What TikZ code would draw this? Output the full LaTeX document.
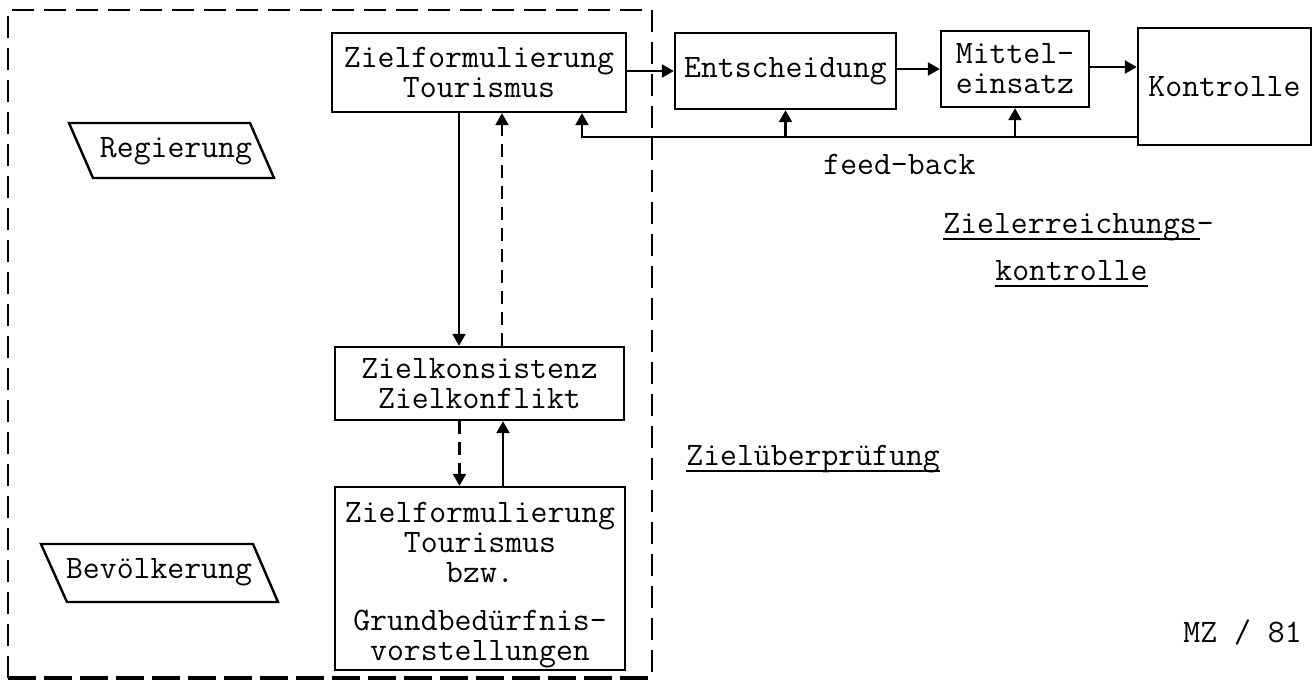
\documentclass[tikz,border=0pt]{standalone}
\usepackage{fontspec}
\usetikzlibrary{arrows.meta,calc}
\begin{document}
\begin{tikzpicture}[x=0.5pt,y=-0.5pt,
  font=\fontsize{16.4}{15}\selectfont\ttfamily,
  box/.style={draw, line width=1.2pt, inner sep=0pt, align=center},
  lbl/.style={inner sep=0pt, anchor=base west},
  arr/.style={-{Triangle[length=6pt,width=6.5pt]}, line width=1.2pt},
  dasharr/.style={arr, dash pattern=on 6.5pt off 4pt},
  outline/.style={line width=1.2pt},
]
\useasboundingbox (0,0) rectangle (1313,682);

% outer dashed frame
\draw[line width=1.1pt, dash pattern=on 11pt off 5pt] (8,678) -- (8,10) -- (652,10) -- (652,678);
\draw[line width=1.8pt, dash pattern=on 14pt off 4pt] (8,678) -- (652,678);

% boxes
\node[box, minimum width=147pt, minimum height=39.5pt] (zt) at (479,72.5) {Zielformulierung\\Tourismus};
\node[box, minimum width=110.5pt, minimum height=38pt] (e) at (785.5,71) {Entscheidung};
\node[box, minimum width=74pt, minimum height=38pt] (m) at (1015,69) {Mittel-\\einsatz};
\node[box, minimum width=86.5pt, minimum height=58.5pt] (k) at (1224.5,86.5) {Kontrolle};
\node[box, minimum width=144.5pt, minimum height=36.5pt] (zk) at (479.5,383.5) {Zielkonsistenz\\Zielkonflikt};
\node[box, minimum width=145pt, minimum height=91.5pt] (zt2) at (480,578.5) {};
\node[inner sep=0pt, align=center] (zt2t) at (480,585)
  {Zielformulierung\\Tourismus\\bzw.\\[9pt]Grundbedürfnis-\\vorstellungen};

% parallelograms
\node[inner sep=0pt] (reg) at (176,151) {Regierung};
\draw[outline] (69,123) -- (250,123) -- (274,178) -- (93,178) -- cycle;
\node[inner sep=0pt] (bev) at (159,572) {Bevölkerung};
\draw[outline] (41,544) -- (253,544) -- (278,602) -- (67,602) -- cycle;

% horizontal flow
\draw[arr] (zt.east |- e.west) -- (e.west);
\draw[arr] (e.east |- m.west) -- (m.west);
\draw[arr] ([yshift=1pt]m.east) -- ([yshift=1pt]m.east -| k.west);

% feedback
\coordinate (fb) at (582,137);
\draw[arr] (k.west |- fb) -- (fb) -- (fb |- zt.south);
\draw[arr] (e.south |- fb) -- (e.south);
\draw[arr] (m.south |- fb) -- (m.south);

% vertical connectors
\draw[arr] ([xshift=-10pt]zt.south) -- ([xshift=-10pt]zt.south |- zk.north);
\draw[dasharr] ([xshift=11.5pt]zt.south |- zk.north) -- ([xshift=11.5pt]zt.south);
\draw[dasharr] ([xshift=-10pt]zk.south) -- ([xshift=-10pt]zk.south |- zt2.north);
\draw[arr] ([xshift=11.75pt]zk.south |- zt2.north) -- ([xshift=11.75pt]zk.south);

% labels
\node[lbl] (fbl) at (823,174) {feed-back};
\node[lbl] (zr) at (943,233) {Zielerreichungs-};
\draw[line width=0.9pt] ($(zr.base west)+(0,6)$) -- ($(zr.base east)+(-14,6)$);
\node[lbl] (ko) at (995,280) {kontrolle};
\draw[line width=0.9pt] ($(ko.base west)+(0,6)$) -- ($(ko.base east)+(0,6)$);
\node[lbl] (zu) at (686,465) {Zielüberprüfung};
\draw[line width=0.9pt] ($(zu.base west)+(0,6)$) -- ($(zu.base east)+(0,6)$);
\node[lbl] (mz) at (1183,642) {MZ / 81};
\end{tikzpicture}
\end{document}
